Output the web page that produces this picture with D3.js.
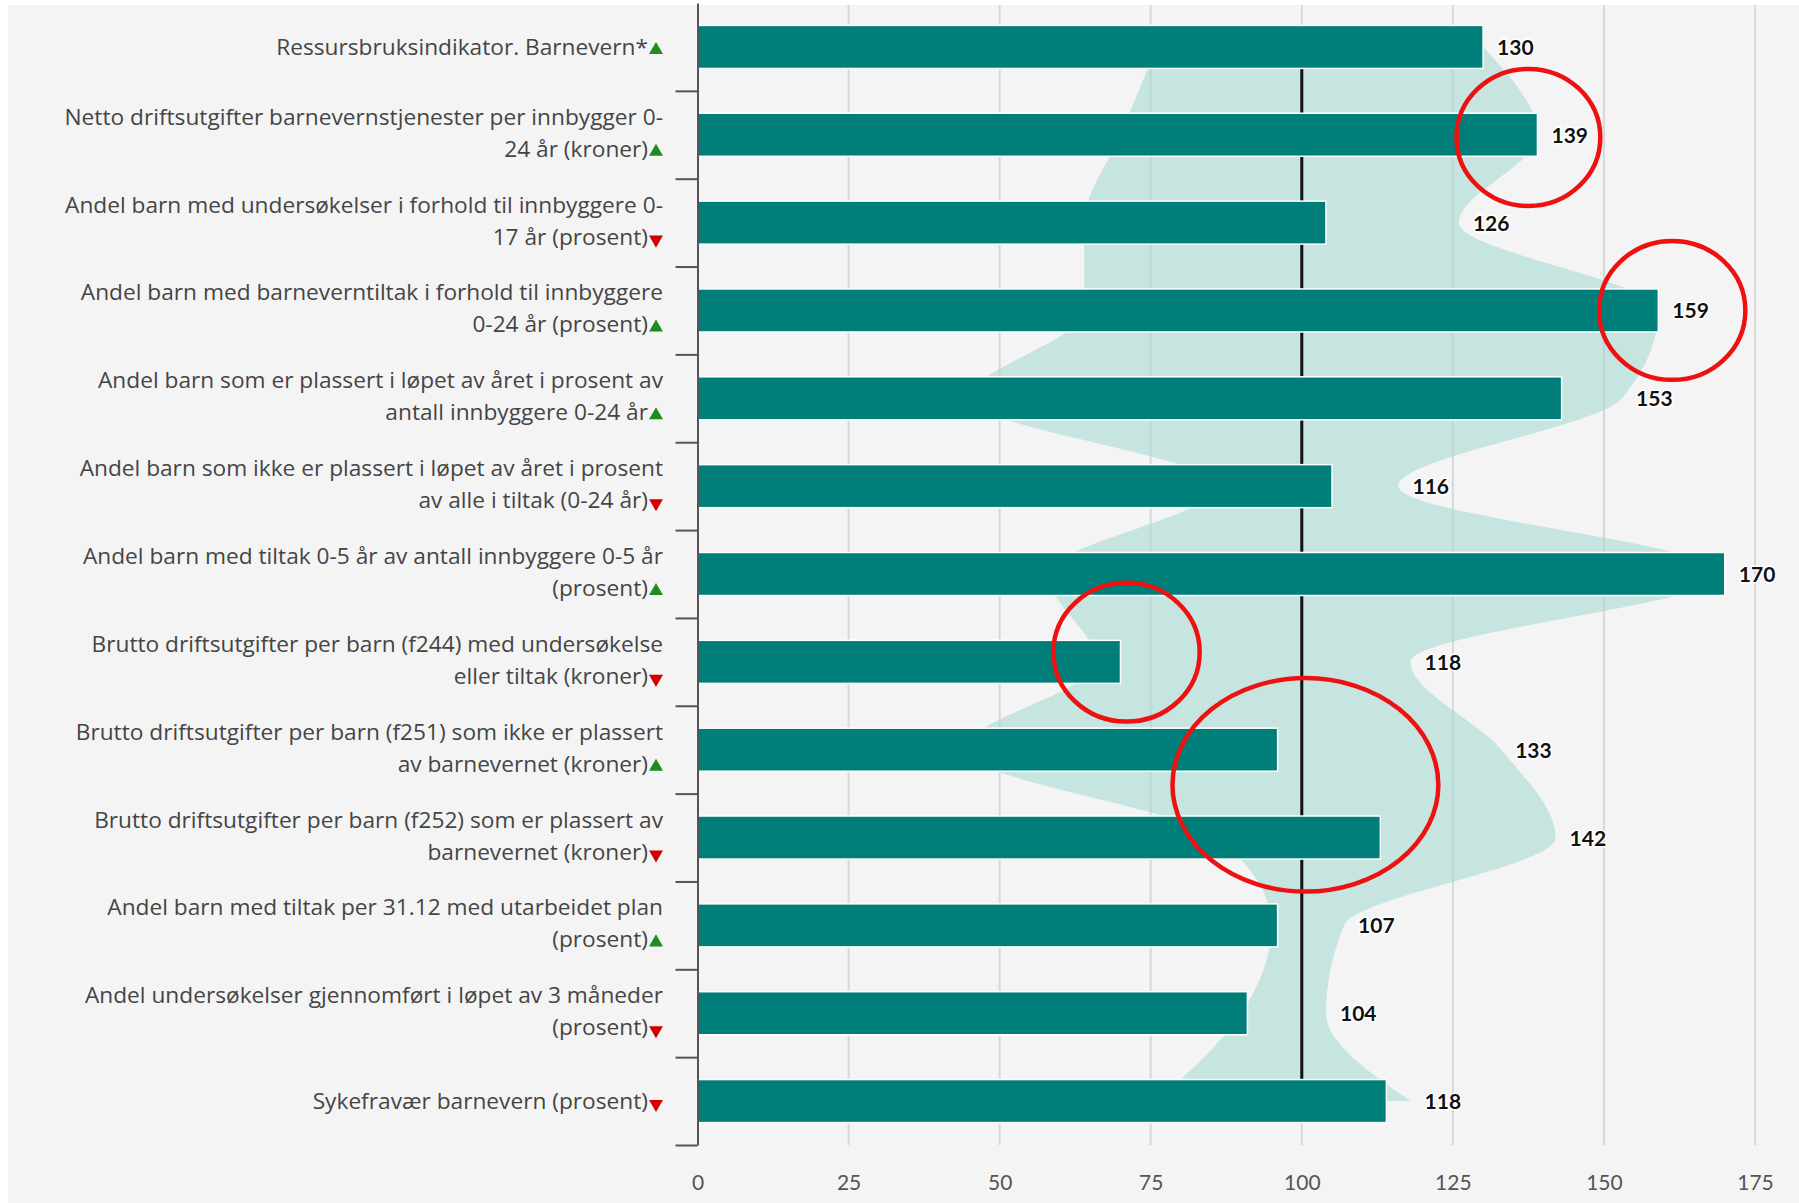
<!DOCTYPE html>
<meta charset="utf-8">
<head>
    <style>
        body { margin: 0; background: #fff; }
        .cat { font-family: "Open Sans", Lato, sans-serif; font-size: 22.7px; fill: #454545; }
        .val { font-family: Lato, "Noto Sans", sans-serif; font-size: 21px; font-weight: bold; fill: #111;
               stroke: #fff; stroke-width: 3px; paint-order: stroke; }
        .xaxis text { font-family: Lato, "Noto Sans", sans-serif; font-size: 21px; fill: #555; }
    </style>
    <script src="https://d3js.org/d3.v7.min.js"></script>
</head>
<div id="my_dataviz"></div>

<script>

// category labels, one entry per line
var labelLines = [
    ["Ressursbruksindikator. Barnevern*"],
    ["Netto driftsutgifter barnevernstjenester per innbygger 0-", "24 år (kroner)"],
    ["Andel barn med undersøkelser i forhold til innbyggere 0-", "17 år (prosent)"],
    ["Andel barn med barneverntiltak i forhold til innbyggere", "0-24 år (prosent)"],
    ["Andel barn som er plassert i løpet av året i prosent av", "antall innbyggere 0-24 år"],
    ["Andel barn som ikke er plassert i løpet av året i prosent", "av alle i tiltak (0-24 år)"],
    ["Andel barn med tiltak 0-5 år av antall innbyggere 0-5 år", "(prosent)"],
    ["Brutto driftsutgifter per barn (f244) med undersøkelse", "eller tiltak (kroner)"],
    ["Brutto driftsutgifter per barn (f251) som ikke er plassert", "av barnevernet (kroner)"],
    ["Brutto driftsutgifter per barn (f252) som er plassert av", "barnevernet (kroner)"],
    ["Andel barn med tiltak per 31.12 med utarbeidet plan", "(prosent)"],
    ["Andel undersøkelser gjennomført i løpet av 3 måneder", "(prosent)"],
    ["Sykefravær barnevern (prosent)"]
];
var arrows = ["up", "up", "down", "up", "up", "down", "up", "down", "up", "down", "up", "down", "down"];

// bar values (index, 100 = reference)
var barValues = [130, 139, 104, 159, 143, 105, 170, 70, 96, 113, 96, 91, 114];
// shaded range: low and high end per row, high end is the printed number
var rangeLow  = [76, 70, 64, 64, 45, 86, 58, 66, 44, 86, 95, 90, 76];
var rangeHigh = [130, 139, 126, 159, 153, 116, 170, 118, 133, 142, 107, 104, 118];

var xTicks = [0, 25, 50, 75, 100, 125, 150, 175];
var refValue = 100;

// red hand drawn circles: centre value, row position, radius in value units / rows
var markCx  = [137.5, 161.3, 71, 100.6];
var markRow = [1.53, 3.5, 7.39, 8.9];
var markRx  = [11.9, 12.1, 12.1, 22];
var markRy  = [0.78, 0.79, 0.79, 1.215];

var W = 1799, H = 1203;
var top0 = 3, bottom0 = 1145, left0 = 697.5, right0 = 1755;

var svg = d3.select("#my_dataviz")
  .append("svg")
    .attr("width", W)
    .attr("height", H);

svg.append("rect")
    .attr("x", 8).attr("y", 5)
    .attr("width", W - 8).attr("height", H - 5)
    .attr("fill", "#f4f4f4");

var idx = d3.range(labelLines.length);

var x = d3.scaleLinear().domain([0, 175]).range([left0, right0]);
var y = d3.scaleBand().domain(idx).range([top0, bottom0])
    .paddingInner(0.51).paddingOuter(0.255);
var yRow = d3.scaleLinear().domain([0, idx.length]).range([top0, bottom0]);
var mid = function(i) { return y(i) + y.bandwidth() / 2; };

// grid
svg.append("g")
  .selectAll("line")
  .data(xTicks.filter(d => d > 0))
  .enter().append("line")
    .attr("x1", d => x(d)).attr("x2", d => x(d))
    .attr("y1", 5).attr("y2", bottom0)
    .attr("stroke", "#d8d8d8")
    .attr("stroke-width", 2);

// shaded range
var area = d3.area()
    .y(i => mid(i))
    .x0(i => x(rangeLow[i]))
    .x1(i => x(rangeHigh[i]))
    .curve(d3.curveMonotoneY);

svg.append("path")
    .datum(idx)
    .attr("d", area)
    .attr("fill", "#a6dbd4")
    .attr("fill-opacity", 0.6);

// reference line at 100
svg.append("line")
    .attr("x1", x(refValue)).attr("x2", x(refValue))
    .attr("y1", mid(0)).attr("y2", mid(idx.length - 1))
    .attr("stroke", "#111")
    .attr("stroke-width", 3);

// bars
svg.selectAll(".bar")
  .data(idx)
  .enter().append("rect")
    .attr("class", "bar")
    .attr("x", x(0))
    .attr("y", i => y(i))
    .attr("width", i => x(barValues[i]) - x(0))
    .attr("height", y.bandwidth())
    .attr("fill", "#007f7a")
    .attr("stroke", "#fff")
    .attr("stroke-width", 1.5);

// numbers
svg.selectAll(".val")
  .data(idx)
  .enter().append("text")
    .attr("class", "val")
    .attr("x", i => x(rangeHigh[i]) + 14)
    .attr("y", i => mid(i) + 8)
    .text(i => rangeHigh[i]);

// x axis
svg.append("g")
    .attr("class", "xaxis")
    .attr("transform", "translate(0," + bottom0 + ")")
    .call(d3.axisBottom(x).tickValues(xTicks).tickSize(0).tickPadding(30))
    .call(g => g.select(".domain").remove());

// left axis with separators between rows
svg.append("g")
    .attr("transform", "translate(" + left0 + ",0)")
    .call(d3.axisLeft(yRow).tickValues(d3.range(1, idx.length + 1))
        .tickSize(22).tickSizeOuter(0).tickFormat(""))
    .call(g => g.selectAll("path, line").attr("stroke", "#555").attr("stroke-width", 2));

// category labels with arrow
var labelG = svg.append("g");
idx.forEach(function(i) {
    var lines = labelLines[i];
    var n = lines.length;
    var base = n == 1 ? [mid(i) + 8] : [mid(i) - 10, mid(i) + 22];
    lines.forEach(function(t, k) {
        var last = k == n - 1;
        labelG.append("text")
            .attr("class", "cat")
            .attr("text-anchor", "end")
            .attr("x", last ? 648 : 663)
            .attr("y", base[k])
            .text(t);
    });
    var up = arrows[i] == "up";
    labelG.append("path")
        .attr("d", d3.symbol(d3.symbolTriangle).size(84)())
        .attr("transform", "translate(656," + (base[n - 1] - 5) + ")" + (up ? "" : " rotate(180)"))
        .attr("fill", up ? "#1e8c1e" : "#d20000");
});

// red circles
svg.append("g")
  .selectAll("ellipse")
  .data(markCx.map((c, k) => k))
  .enter().append("ellipse")
    .attr("cx", k => x(markCx[k]))
    .attr("cy", k => yRow(markRow[k]))
    .attr("rx", k => x(markRx[k]) - x(0))
    .attr("ry", k => yRow(markRy[k]) - yRow(0))
    .attr("fill", "none")
    .attr("stroke", "#ee1111")
    .attr("stroke-width", 4.5);

</script>
